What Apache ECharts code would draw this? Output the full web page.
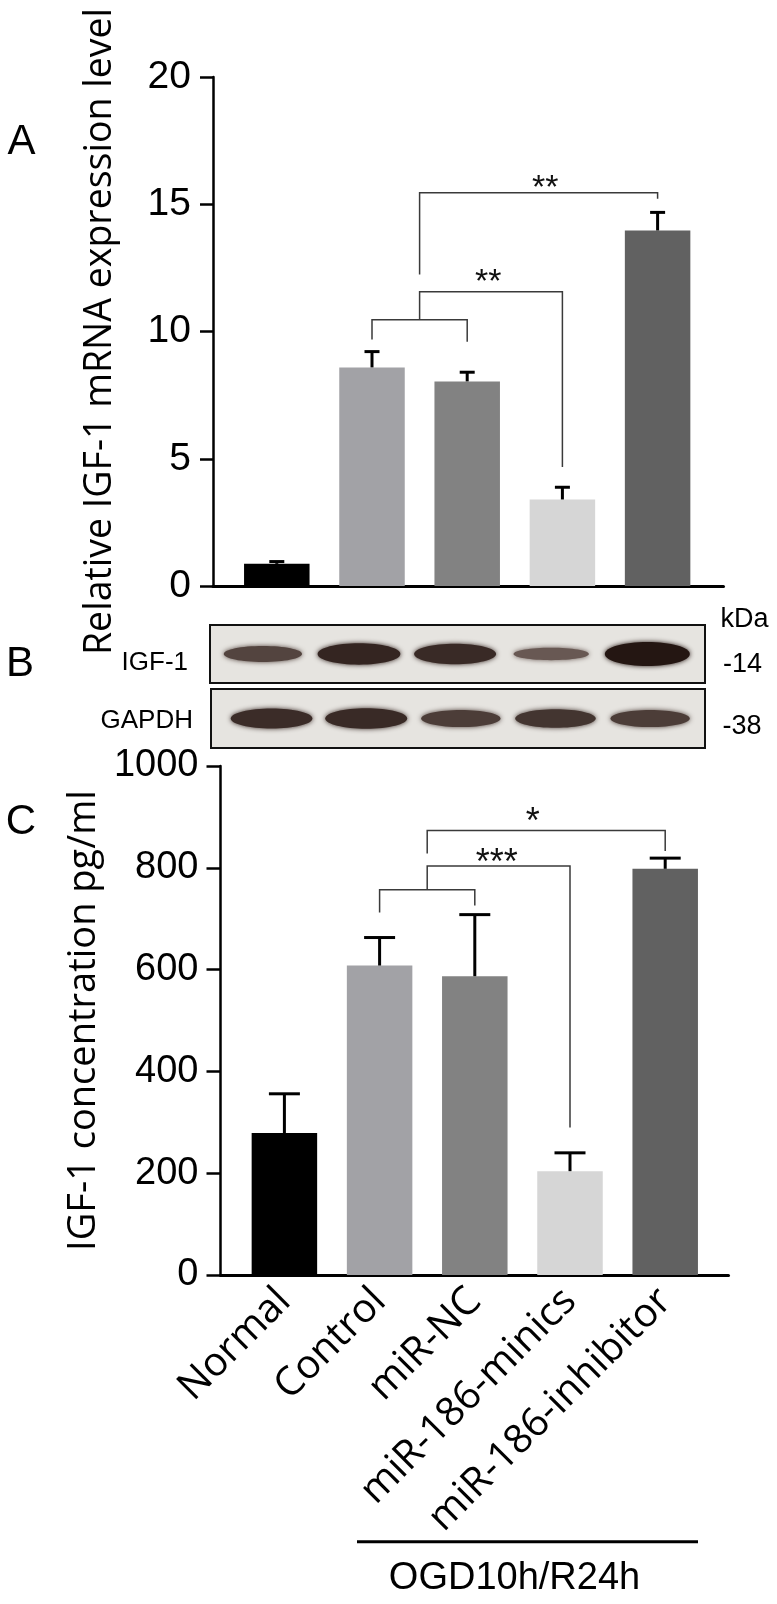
<!DOCTYPE html>
<html>
<head>
<meta charset="utf-8">
<script src="https://cdn.jsdelivr.net/npm/echarts/dist/echarts.min.js"></script>
<style>
html,body{margin:0;padding:0;background:#fff;}
#chart{width:777px;height:1604px;}
</style>
</head>
<body>
<div id="chart"></div>
<script>
// ---------- data ----------
const categories = ['Normal', 'Control', 'miR-NC', 'miR-186-minics', 'miR-186-inhibitor'];
const mrnaMean = [0.87, 8.59, 8.04, 3.40, 13.97];
const mrnaErr  = [0.09, 0.62, 0.36, 0.48, 0.71];
const elisaMean = [279, 608, 587, 204, 798];
const elisaErr  = [77, 55, 121, 36, 21];
const mrnaTickStep = 5;
const elisaTickStep = 200;
// western blot band intensities (relative)
const igfBand   = [0.55, 0.85, 0.80, 0.35, 1.00];
const gapdhBand = [0.78, 0.80, 0.62, 0.70, 0.62];
// significance brackets (category index, value)
const mrnaBrackets = [
  [[1, 9.69], [1, 10.46], [2, 10.46], [2, 9.60]],
  [[1.5, 10.46], [1.5, 11.56], [3, 11.56], [3, 4.68]],
  [[1.5, 12.24], [1.5, 15.45], [4, 15.45], [4, 15.22]]
];
const mrnaStars = [[2.22, 12.2, '**'], [2.82, 15.9, '**']];
const elisaBrackets = [
  [[1, 712], [1, 757], [2, 757], [2, 726]],
  [[1.5, 757], [1.5, 803.5], [3, 803.5], [3, 290]],
  [[1.5, 828], [1.5, 873.5], [4, 873.5], [4, 833]]
];
const elisaStars = [[2.23, 823, '***'], [2.61, 903, '*']];

// ---------- styles ----------
const barColors = ['#000000', '#a2a2a6', '#828282', '#d6d6d6', '#616161'];
const TICK_FONT = 'Liberation Sans';
const TEXT_FONT = 'Open Sans';

function coordAt(api, x, y) {
  const a = Math.floor(x), b = Math.ceil(x);
  const pa = api.coord([a, y]);
  if (a === b) return pa;
  const pb = api.coord([b, y]);
  const t = x - a;
  return [pa[0] + (pb[0] - pa[0]) * t, pa[1]];
}

function errRender(capW) {
  return function (params, api) {
    const i = api.value(0), m = api.value(1), e = api.value(2);
    const p0 = api.coord([i, m]);
    const p1 = api.coord([i, m + e]);
    return {
      type: 'group',
      children: [
        {type: 'line', shape: {x1: p0[0], y1: p0[1], x2: p1[0], y2: p1[1]}, style: {stroke: '#000', lineWidth: 3}},
        {type: 'line', shape: {x1: p1[0] - capW / 2, y1: p1[1], x2: p1[0] + capW / 2, y2: p1[1]}, style: {stroke: '#000', lineWidth: 3}}
      ]
    };
  };
}

function bracketRender(brackets, stars, starSize) {
  return function (params, api) {
    const children = [];
    brackets.forEach(function (b) {
      children.push({
        type: 'polyline',
        shape: {points: b.map(function (p) { return coordAt(api, p[0], p[1]); })},
        style: {stroke: '#3a3a3a', lineWidth: 1.5, fill: null}
      });
    });
    stars.forEach(function (s) {
      const c = coordAt(api, s[0], s[1]);
      children.push({
        type: 'text',
        x: c[0], y: c[1] + starSize * 0.22,
        style: {text: s[2], fontSize: starSize, fontFamily: TICK_FONT, fill: '#111', align: 'center', verticalAlign: 'middle'}
      });
    });
    return {type: 'group', children: children};
  };
}

function mixColor(t) {
  const light = [140, 124, 118], dark = [36, 22, 18];
  const c = light.map(function (l, k) { return Math.round(l + (dark[k] - l) * t); });
  return 'rgb(' + c.join(',') + ')';
}

function bandRender(params, api) {
  const i = api.value(0), v = api.value(1);
  const c = api.coord([i, 0.5]);
  const rx = (70 + 15 * v) / 2;
  const ry = (6 + 18 * v) / 2;
  const col = mixColor(v);
  return {
    type: 'ellipse',
    shape: {cx: c[0], cy: c[1], rx: rx, ry: ry},
    style: {fill: col, shadowBlur: 5, shadowColor: col}
  };
}

const G = {containLabel: false, outerBoundsMode: 'none'};
function grid(o) { return Object.assign({}, G, o); }

const option = {
  backgroundColor: '#ffffff',
  animation: false,
  grid: [
    grid({left: 229.2, top: 77, width: 476, height: 509}),            // 0 A bars
    grid({left: 213, top: 77, width: 510.5, height: 509}),             // 1 A x-axis line
    grid({left: 210, top: 625, width: 495, height: 58, show: true, backgroundColor: '#e6e4e0', borderColor: '#111', borderWidth: 2}), // 2 IGF-1 blot
    grid({left: 211, top: 689, width: 494, height: 59, show: true, backgroundColor: '#e6e4e0', borderColor: '#111', borderWidth: 2}), // 3 GAPDH blot
    grid({left: 236.8, top: 766, width: 476, height: 509}),            // 4 C bars
    grid({left: 220.5, top: 766, width: 508, height: 509})             // 5 C x-axis line
  ],
  xAxis: [
    {gridIndex: 0, type: 'category', data: categories, axisLine: {show: false}, axisTick: {show: false}, axisLabel: {show: false}},
    {gridIndex: 1, type: 'value', min: 0, max: 1, axisLine: {show: true, lineStyle: {color: '#000', width: 3}}, axisTick: {show: false}, axisLabel: {show: false}, splitLine: {show: false}},
    {gridIndex: 2, type: 'value', min: -0.55, max: 4.6, show: false},
    {gridIndex: 3, type: 'value', min: -0.64, max: 4.58, show: false},
    {gridIndex: 4, type: 'category', data: categories, axisLine: {show: false}, axisTick: {show: false},
      axisLabel: {show: true, interval: 0, rotate: 45, margin: 20, fontSize: 40, fontFamily: TEXT_FONT, color: '#000'}},
    {gridIndex: 5, type: 'value', min: 0, max: 1, axisLine: {show: true, lineStyle: {color: '#000', width: 3}}, axisTick: {show: false}, axisLabel: {show: false}, splitLine: {show: false}}
  ],
  yAxis: [
    {gridIndex: 0, type: 'value', min: 0, max: 20, interval: mrnaTickStep, offset: 16.2,
      axisLine: {show: true, lineStyle: {color: '#000', width: 2.5}},
      axisTick: {show: true, length: 13, lineStyle: {color: '#000', width: 2.5}},
      axisLabel: {margin: 22, fontSize: 39, fontFamily: TICK_FONT, color: '#000'},
      splitLine: {show: false},
      name: 'Relative IGF-1 mRNA expression level', nameLocation: 'middle', nameGap: 94,
      nameTextStyle: {fontSize: 37.5, fontFamily: TEXT_FONT, color: '#000'}},
    {gridIndex: 1, type: 'value', min: 0, max: 1, show: false},
    {gridIndex: 2, type: 'value', min: 0, max: 1, show: false},
    {gridIndex: 3, type: 'value', min: 0, max: 1, show: false},
    {gridIndex: 4, type: 'value', min: 0, max: 1000, interval: elisaTickStep, offset: 16.3,
      axisLine: {show: true, lineStyle: {color: '#000', width: 2.5}},
      axisTick: {show: true, length: 14, lineStyle: {color: '#000', width: 2.5}},
      axisLabel: {margin: 22, fontSize: 38, fontFamily: TICK_FONT, color: '#000', formatter: function (v) { return String(v); }},
      splitLine: {show: false},
      name: 'IGF-1 concentration pg/ml', nameLocation: 'middle', nameGap: 100,
      nameTextStyle: {fontSize: 38, fontFamily: TEXT_FONT, color: '#000'}},
    {gridIndex: 5, type: 'value', min: 0, max: 1, show: false}
  ],
  series: [
    {type: 'bar', xAxisIndex: 0, yAxisIndex: 0, barWidth: 65.5, z: 2,
      data: mrnaMean.map(function (v, i) { return {value: v, itemStyle: {color: barColors[i]}}; })},
    {type: 'custom', xAxisIndex: 0, yAxisIndex: 0, z: 3, renderItem: errRender(15),
      data: mrnaMean.map(function (v, i) { return [i, v, mrnaErr[i]]; })},
    {type: 'custom', xAxisIndex: 0, yAxisIndex: 0, z: 3, renderItem: bracketRender(mrnaBrackets, mrnaStars, 34),
      data: [[0, 0]]},
    {type: 'custom', xAxisIndex: 2, yAxisIndex: 2, z: 3, renderItem: bandRender,
      data: igfBand.map(function (v, i) { return [i, v]; })},
    {type: 'custom', xAxisIndex: 3, yAxisIndex: 3, z: 3, renderItem: bandRender,
      data: gapdhBand.map(function (v, i) { return [i, v]; })},
    {type: 'bar', xAxisIndex: 4, yAxisIndex: 4, barWidth: 65.5, z: 2,
      data: elisaMean.map(function (v, i) { return {value: v, itemStyle: {color: barColors[i]}}; })},
    {type: 'custom', xAxisIndex: 4, yAxisIndex: 4, z: 3, renderItem: errRender(31),
      data: elisaMean.map(function (v, i) { return [i, v, elisaErr[i]]; })},
    {type: 'custom', xAxisIndex: 4, yAxisIndex: 4, z: 3, renderItem: bracketRender(elisaBrackets, elisaStars, 36),
      data: [[0, 0]]}
  ],
  graphic: [
    {type: 'text', x: 21.5, y: 142, style: {text: 'A', fontSize: 42, fontFamily: TICK_FONT, fill: '#000', align: 'center', verticalAlign: 'middle'}},
    {type: 'text', x: 20, y: 664, style: {text: 'B', fontSize: 42, fontFamily: TICK_FONT, fill: '#000', align: 'center', verticalAlign: 'middle'}},
    {type: 'text', x: 21, y: 822, style: {text: 'C', fontSize: 42, fontFamily: TICK_FONT, fill: '#000', align: 'center', verticalAlign: 'middle'}},
    {type: 'text', x: 188, y: 663, style: {text: 'IGF-1', fontSize: 26, fontFamily: TICK_FONT, fill: '#000', align: 'right', verticalAlign: 'middle'}},
    {type: 'text', x: 193, y: 721, style: {text: 'GAPDH', fontSize: 26, fontFamily: TICK_FONT, fill: '#000', align: 'right', verticalAlign: 'middle'}},
    {type: 'text', x: 744.5, y: 620, style: {text: 'kDa', fontSize: 27, fontFamily: TICK_FONT, fill: '#000', align: 'center', verticalAlign: 'middle'}},
    {type: 'text', x: 742.6, y: 665, style: {text: '-14', fontSize: 27, fontFamily: TICK_FONT, fill: '#000', align: 'center', verticalAlign: 'middle'}},
    {type: 'text', x: 742, y: 727, style: {text: '-38', fontSize: 27, fontFamily: TICK_FONT, fill: '#000', align: 'center', verticalAlign: 'middle'}},
    {type: 'line', shape: {x1: 357, y1: 1541.7, x2: 698, y2: 1541.7}, style: {stroke: '#000', lineWidth: 3}},
    {type: 'text', x: 514.5, y: 1578.5, style: {text: 'OGD10h/R24h', fontSize: 38, fontFamily: TICK_FONT, fill: '#000', align: 'center', verticalAlign: 'middle'}}
  ]
};

const chart = echarts.init(document.getElementById('chart'), null, {renderer: 'canvas'});
chart.setOption(option);
</script>
</body>
</html>
